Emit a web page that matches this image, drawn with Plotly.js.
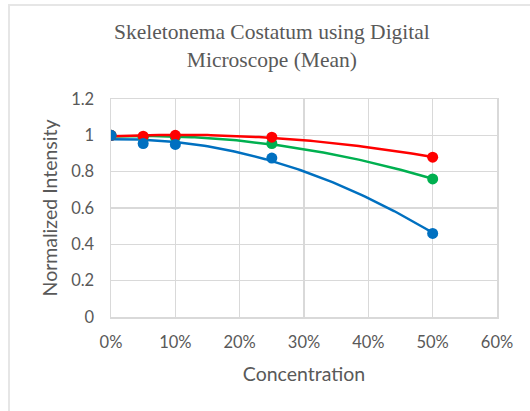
<!DOCTYPE html>
<html>
<head>
<meta charset="utf-8">
<script src="https://cdn.plot.ly/plotly-3.0.1.min.js"></script>
<style>
html,body{margin:0;padding:0;background:#fff;}
#wrap{position:relative;width:530px;height:411px;overflow:hidden;}
#chart{width:530px;height:411px;}
#frame{position:absolute;left:8px;top:4px;width:600px;height:500px;border-left:2px solid #e6e6e6;border-top:2px solid #e6e6e6;pointer-events:none;}
</style>
</head>
<body>
<div id="wrap"><div id="chart"></div><div id="frame"></div></div>
<script>
var concentration = [0, 0.05, 0.10, 0.25, 0.50];
var redValues   = [1.00, 0.995, 1.00, 0.99, 0.88];
var greenValues = [1.00, 0.99, 0.99, 0.955, 0.76];
var blueValues  = [1.00, 0.955, 0.95, 0.875, 0.46];
var seriesColors = ['#FF0000', '#00B050', '#0070C0'];
var xTickVals = [0, 0.1, 0.2, 0.3, 0.4, 0.5, 0.6];
var xTickText = ['0%', '10%', '20%', '30%', '40%', '50%', '60%'];
var yTickVals = [0, 0.2, 0.4, 0.6, 0.8, 1, 1.2];
var yTickText = ['0', '0.2', '0.4', '0.6', '0.8', '1', '1.2'];

// least-squares quadratic trendline (as in Excel "Polynomial, order 2")
function polyFit2(xs, ys) {
  var S = [0,0,0,0,0], T = [0,0,0];
  for (var i = 0; i < xs.length; i++) {
    var p = 1;
    for (var k = 0; k < 5; k++) { S[k] += p; if (k < 3) T[k] += p * ys[i]; p *= xs[i]; }
  }
  var A = [[S[0],S[1],S[2],T[0]],[S[1],S[2],S[3],T[1]],[S[2],S[3],S[4],T[2]]];
  for (var c = 0; c < 3; c++) {
    for (var r = c + 1; r < 3; r++) {
      var f = A[r][c] / A[c][c];
      for (var j = c; j < 4; j++) A[r][j] -= f * A[c][j];
    }
  }
  var co = [0,0,0];
  for (var r2 = 2; r2 >= 0; r2--) {
    var s = A[r2][3];
    for (var j2 = r2 + 1; j2 < 3; j2++) s -= A[r2][j2] * co[j2];
    co[r2] = s / A[r2][r2];
  }
  return co;
}
function trend(ys) {
  var co = polyFit2(concentration, ys);
  var xmin = concentration[0], xmax = concentration[concentration.length - 1];
  var xs = [], yv = [];
  for (var i = 0; i <= 100; i++) {
    var x = xmin + (xmax - xmin) * i / 100;
    xs.push(x); yv.push(co[0] + co[1] * x + co[2] * x * x);
  }
  return {x: xs, y: yv};
}

var allSeries = [redValues, greenValues, blueValues];
var traces = [];
var order = [1, 0, 2];
order.forEach(function (idx) {
  var t = trend(allSeries[idx]);
  traces.push({x: t.x, y: t.y, mode: 'lines', line: {color: seriesColors[idx], width: 2.5}, hoverinfo: 'skip', showlegend: false});
});
order.forEach(function (idx) {
  traces.push({x: concentration, y: allSeries[idx], mode: 'markers', marker: {color: seriesColors[idx], size: 11}, showlegend: false});
});

var fam = 'Lato, "Liberation Sans", sans-serif';
var tickFont = {family: fam, size: 16.5, color: '#595959'};
var layout = {
  width: 530, height: 411,
  margin: {l: 111, r: 33, t: 99, b: 94},
  paper_bgcolor: '#ffffff', plot_bgcolor: '#ffffff',
  title: {
    text: 'Skeletonema Costatum using Digital<br>Microscope (Mean)',
    font: {family: '"Liberation Serif", "Times New Roman", serif', size: 21.5, color: '#595959'},
    x: 0.513, xanchor: 'center', y: 0.905, yanchor: 'top'
  },
  xaxis: {
    range: [0, 0.6], tickvals: xTickVals, ticktext: xTickText,
    showgrid: true, gridcolor: '#d9d9d9', gridwidth: 1.5,
    showline: true, linecolor: '#d9d9d9', linewidth: 1.5, mirror: true,
    zeroline: false, ticks: 'outside', ticklen: 10, tickcolor: 'rgba(0,0,0,0)',
    tickfont: tickFont,
    title: {text: 'Concentration', font: {family: fam, size: 19.5, color: '#595959'}, standoff: 16}
  },
  yaxis: {
    range: [0, 1.2], tickvals: yTickVals, ticktext: yTickText,
    showgrid: true, gridcolor: '#d9d9d9', gridwidth: 1.5,
    showline: true, linecolor: '#d9d9d9', linewidth: 1.5, mirror: true,
    zeroline: false, ticks: 'outside', ticklen: 12, tickcolor: 'rgba(0,0,0,0)',
    tickfont: tickFont,
    title: {text: 'Normalized Intensity', font: {family: fam, size: 19.5, color: '#595959'}, standoff: 8}
  }
};
Plotly.newPlot('chart', traces, layout, {displayModeBar: false, staticPlot: true});
</script>
</body>
</html>
